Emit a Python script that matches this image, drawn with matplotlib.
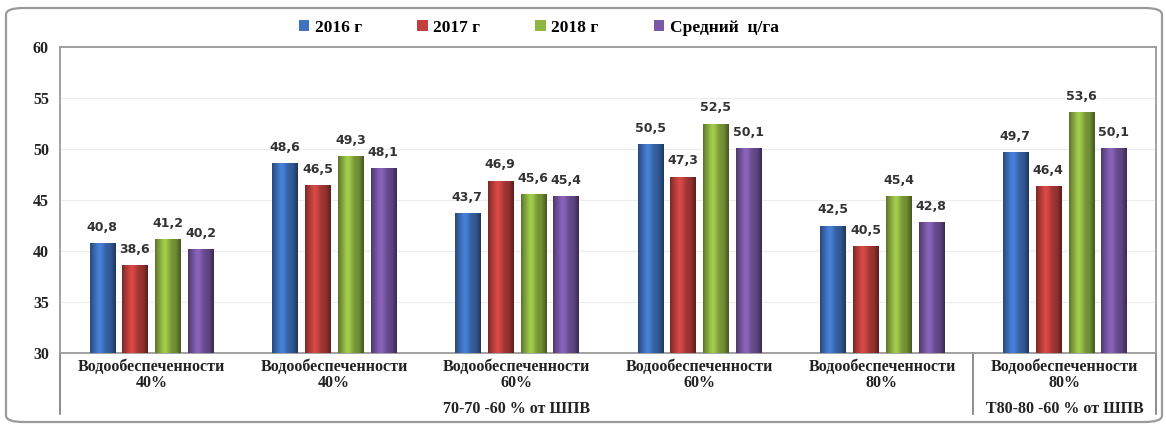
import numpy as np
import matplotlib
matplotlib.use("Agg")
import matplotlib.pyplot as plt
from matplotlib.patches import FancyBboxPatch
from matplotlib.colors import to_rgb

categories = ["Водообеспеченности\n40%", "Водообеспеченности\n40%",
              "Водообеспеченности\n60%", "Водообеспеченности\n60%",
              "Водообеспеченности\n80%", "Водообеспеченности\n80%"]
series_names = ["2016 г", "2017 г", "2018 г", "Средний  ц/га"]
y2016 = [40.8, 48.6, 43.7, 50.5, 42.5, 49.7]
y2017 = [38.6, 46.5, 46.9, 47.3, 40.5, 46.4]
y2018 = [41.2, 49.3, 45.6, 52.5, 45.4, 53.6]
yavg = [40.2, 48.1, 45.4, 50.1, 42.8, 50.1]
group_labels = ["70-70 -60 % от ШПВ", "T80-80 -60 % от ШПВ"]
group_pos = [2, 5]
colors = ["#3f72bf", "#c0403d", "#8fb543", "#7a58a6"]

fig = plt.figure(figsize=(11.66, 4.28), dpi=100)
ax = fig.add_axes([60/1166, 1-353/428, (1156-60)/1166, (353-47)/428])

# outer rounded frame
frame = FancyBboxPatch((6/1166, 6/428), 1156/1166, 414/428,
                       boxstyle="round,pad=0,rounding_size=0.015",
                       transform=fig.transFigure, fill=False,
                       edgecolor="#9a9a9a", lw=1.6, zorder=0)
fig.patches.append(frame)

x = np.arange(len(categories))
step = 0.18
width = 0.137
grad = np.linspace(0, 1, 64)
# cylinder-like shading: darker edges, light band left of centre
shade = 0.78 + 0.35*np.exp(-((grad-0.38)/0.2)**2) - 0.3*(grad > 0.8)*(grad-0.8)/0.2 \
        - 0.15*(grad < 0.12)*(0.12-grad)/0.12

for i, (vals, col) in enumerate(zip([y2016, y2017, y2018, yavg], colors)):
    pos = x + (i - 1.5)*step
    bars = ax.bar(pos, vals, width, bottom=0, color=col, label=series_names[i],
                  edgecolor="none", zorder=2)
    base = np.array(to_rgb(col))
    img = np.clip(base[None, :]*shade[:, None], 0, 1)[None, :, :]
    for b, v in zip(bars, vals):
        im = ax.imshow(img, extent=[b.get_x(), b.get_x()+b.get_width(), 30, v],
                       aspect="auto", zorder=3)
        im.set_clip_path(b)
        ax.text(b.get_x()+b.get_width()/2, v+0.9, f"{v:.1f}".replace(".", ","),
                ha="center", va="bottom", fontsize=9, fontweight="bold",
                color="#333333", zorder=5)

ax.set_xlim(-0.5, len(categories)-0.5)
ax.set_ylim(30, 60)
ax.set_yticks(range(30, 61, 5))
ax.set_xticks(x)
ax.set_xticklabels(categories, fontfamily="Liberation Serif", fontweight="bold",
                   fontsize=11.5, linespacing=1.05)
for lab in ax.get_yticklabels():
    lab.set_fontfamily("Liberation Serif")
    lab.set_fontweight("bold")
    lab.set_fontsize(11.5)
ax.tick_params(axis="both", length=0, pad=8, colors="#222222")
ax.tick_params(axis="x", pad=4)
ax.yaxis.grid(True, color="#ececec", lw=0.8, zorder=0)
for s in ax.spines.values():
    s.set_color("#9a9a9a")
    s.set_linewidth(1.3)

for gl, gp in zip(group_labels, group_pos):
    ax.annotate(gl, xy=(gp, 0), xycoords=("data", "axes fraction"),
                xytext=(0, -40), textcoords="offset points", ha="center",
                va="center", fontfamily="Liberation Serif", fontweight="bold",
                fontsize=11.5, color="#222222")

# category-axis dividers below the plot
for xv in [-0.5, 4.5, 5.5]:
    ax.plot([xv, xv], [0, -0.2], transform=ax.get_xaxis_transform(),
            color="#7a7a7a", lw=1.2, clip_on=False)

leg = fig.legend(loc="upper center", bbox_to_anchor=(0.462, 0.99), ncol=4,
                 frameon=False, handlelength=0.6, handleheight=0.6,
                 handletextpad=0.3, columnspacing=3.2,
                 prop={"family": "Liberation Serif", "weight": "bold", "size": 12.5})

fig.savefig("out.png", dpi=100, facecolor="white")
